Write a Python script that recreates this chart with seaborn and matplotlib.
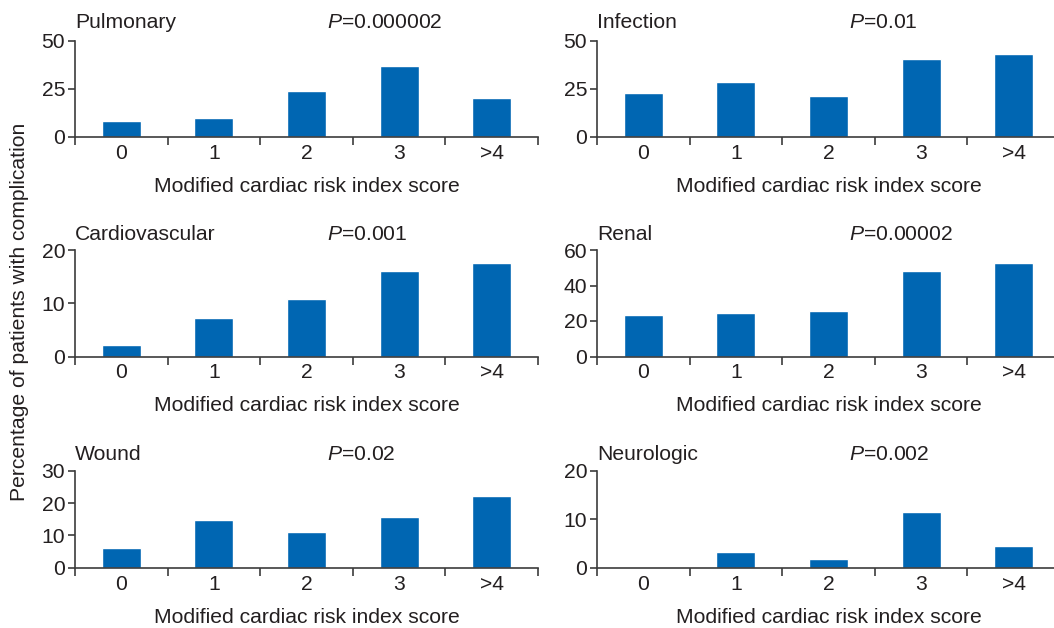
import matplotlib
matplotlib.use("Agg")
import matplotlib.pyplot as plt
import seaborn as sns
import pandas as pd

# ---- data ----
categories = ["0", "1", "2", "3", ">4"]
pulmonary = [8.0, 9.5, 24.0, 37.0, 20.0]
infection = [23.0, 28.5, 21.0, 40.5, 43.0]
cardiovascular = [2.2, 7.3, 10.8, 16.1, 17.6]
renal = [23.5, 24.7, 25.9, 48.2, 52.9]
wound = [6.0, 14.8, 11.1, 15.8, 22.2]
neurologic = [0.0, 3.3, 1.7, 11.4, 4.4]

titles = ["Pulmonary", "Infection", "Cardiovascular", "Renal", "Wound", "Neurologic"]
pvalues = ["0.000002", "0.01", "0.001", "0.00002", "0.02", "0.002"]
series = [pulmonary, infection, cardiovascular, renal, wound, neurologic]
yticks = [[0, 25, 50], [0, 25, 50], [0, 10, 20], [0, 20, 40, 60], [0, 10, 20, 30], [0, 10, 20]]
xlabel = "Modified cardiac risk index score"
ylabel = "Percentage of patients with complication"

# ---- style ----
sns.set_theme(style="white")
plt.rcParams["font.family"] = ["Liberation Sans", "DejaVu Sans"]
plt.rcParams["mathtext.fontset"] = "custom"
plt.rcParams["mathtext.it"] = "Liberation Sans:italic"
plt.rcParams["mathtext.rm"] = "Liberation Sans"

BAR = "#0066b2"
TXT = "#231f20"
LINE = "#3c3c3c"
FS = 15.2

W, H = 1054, 628
fig = plt.figure(figsize=(W / 100, H / 100), dpi=100)

col_x = [75, 597]
axw = 463
rows = [(40.7, 136.7), (250.0, 356.5), (470.7, 567.7)]
title_y = [22, 234, 454]

for i, (vals, title, pv, yt) in enumerate(zip(series, titles, pvalues, yticks)):
    r, c = divmod(i, 2)
    top, bot = rows[r]
    ax = fig.add_axes([col_x[c] / W, 1 - bot / H, axw / W, (bot - top) / H])
    df = pd.DataFrame({"score": categories, "pct": vals})
    sns.barplot(data=df, x="score", y="pct", ax=ax, color=BAR, saturation=1,
                width=0.42, order=categories)
    ax.set_xlim(-0.5, 4.5)
    ax.set_ylim(0, yt[-1])
    ax.set_yticks(yt)
    ax.set_yticklabels([str(v) for v in yt], fontsize=FS, color=TXT)
    ax.set_xticks(range(len(categories)))
    ax.set_xticklabels(categories, fontsize=FS, color=TXT)
    ax.set_xticks([k - 0.5 for k in range(len(categories) + 1)], minor=True)
    ax.tick_params(axis="x", which="major", bottom=True, length=0, pad=5)
    ax.tick_params(axis="x", which="minor", bottom=True, length=6, width=1.2,
                   color=LINE, direction="out")
    ax.tick_params(axis="y", which="major", left=True, length=5, width=1.2,
                   color=LINE, direction="out", pad=2)
    ax.set_xlabel(xlabel, fontsize=FS, color=TXT, labelpad=10)
    ax.set_ylabel("")
    for s in ["top", "right"]:
        ax.spines[s].set_visible(False)
    for s in ["left", "bottom"]:
        ax.spines[s].set_color(LINE)
        ax.spines[s].set_linewidth(1.2)
    ax.grid(False)
    fig.text(col_x[c] / W, 1 - title_y[r] / H, title, fontsize=FS, color=TXT,
             ha="left", va="center")
    fig.text((col_x[c] + 252) / W, 1 - title_y[r] / H, r"$P$=" + pv, fontsize=FS,
             color=TXT, ha="left", va="center")

fig.text(20 / W, 1 - 312 / H, ylabel, rotation=90, fontsize=15.2, color=TXT,
         ha="center", va="center")

fig.savefig("out.png", dpi=100)
